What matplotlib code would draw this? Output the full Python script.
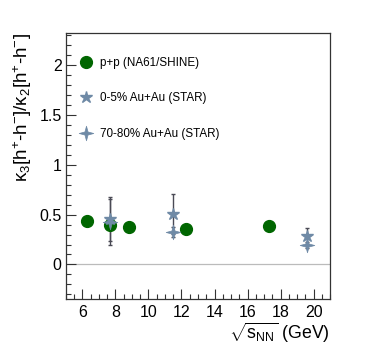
import matplotlib
matplotlib.use('Agg')
import numpy as np
import matplotlib.pyplot as plt
from matplotlib.path import Path
from matplotlib.ticker import MultipleLocator

plt.rcParams['font.family'] = ['Liberation Sans', 'DejaVu Sans']
plt.rcParams['mathtext.fontset'] = 'custom'
plt.rcParams['mathtext.rm'] = 'Liberation Sans'
plt.rcParams['mathtext.it'] = 'Liberation Sans'

# p+p (NA61/SHINE)
pp_energy = [6.3, 7.7, 8.8, 12.3, 17.3]
pp_ratio = [0.44, 0.40, 0.38, 0.36, 0.39]
pp_err = [0.05, 0.02, 0.02, 0.02, 0.02]

# 0-5% Au+Au (STAR)
c05_energy = [7.7, 11.5, 19.6]
c05_ratio = [0.46, 0.51, 0.29]
c05_err = [0.22, 0.20, 0.08]

# 70-80% Au+Au (STAR)
c7080_energy = [7.7, 11.5, 19.6]
c7080_ratio = [0.43, 0.33, 0.20]
c7080_err = [0.23, 0.05, 0.03]

green = '#006600'
slate = '#6f8aa6'
errc = '#4a4a55'

# four pointed star, like the ROOT one
ang = np.arange(8) * np.pi / 4 + np.pi / 2
rad = np.where(np.arange(8) % 2 == 0, 1.0, 0.3)
verts = np.column_stack([rad * np.cos(ang), rad * np.sin(ang)])
verts = np.vstack([verts, verts[:1]])
star4 = Path(verts, [Path.MOVETO] + [Path.LINETO] * 7 + [Path.CLOSEPOLY])

fig = plt.figure(figsize=(3.66, 3.53), dpi=100)
ax = fig.add_axes([0.180, 0.152, 0.722, 0.754])

ax.axhline(0, color='#bbbbbb', lw=0.9, zorder=1)

ax.errorbar(c05_energy, c05_ratio, yerr=c05_err, fmt='none', ecolor=errc,
            elinewidth=1.0, capsize=1.5, capthick=1.0, zorder=2)
ax.errorbar(c7080_energy, c7080_ratio, yerr=c7080_err, fmt='none', ecolor=errc,
            elinewidth=1.0, capsize=1.5, capthick=1.0, zorder=2)
ax.errorbar(pp_energy, pp_ratio, yerr=pp_err, fmt='none', ecolor=green,
            elinewidth=1.0, capsize=0, zorder=2)

ax.plot(pp_energy, pp_ratio, 'o', color=green, ms=8.5, mec=green, zorder=3,
        label='p+p (NA61/SHINE)')
ax.plot(c05_energy, c05_ratio, '*', color=slate, ms=9, mec=slate, zorder=4,
        label='0-5% Au+Au (STAR)')
ax.plot(c7080_energy, c7080_ratio, marker=star4, ls='none', color=slate,
        ms=10.5, mec=slate, mew=0.5, zorder=4, label='70-80% Au+Au (STAR)')

ax.set_xlim(5, 21)
ax.set_ylim(-0.35, 2.32)
ax.xaxis.set_minor_locator(MultipleLocator(0.5))
ax.yaxis.set_minor_locator(MultipleLocator(0.1))
ax.set_xticks(range(6, 21, 2))
ax.set_xticklabels([str(v) for v in range(6, 21, 2)])
ax.set_yticks([0, 0.5, 1, 1.5, 2])
ax.set_yticklabels(['0', '0.5', '1', '1.5', '2'])
ax.tick_params(which='both', direction='in', top=False, right=False,
               labelsize=11.5, color='#333333')
ax.tick_params(which='major', length=7, width=0.8)
ax.tick_params(which='minor', length=3.5, width=0.8)
ax.tick_params(axis='x', pad=4)
ax.tick_params(axis='y', pad=3)
for s in ax.spines.values():
    s.set_linewidth(0.9)
    s.set_color('#333333')

ax.set_ylabel(r'$\mathregular{\kappa_3[h^{+}\text{-}h^{-}]/\kappa_2[h^{+}\text{-}h^{-}]}$',
              fontsize=13.5, loc='top', labelpad=4)
ax.set_xlabel(r'$\sqrt{\mathregular{s_{NN}}}$ (GeV)', fontsize=12.8, loc='right',
              labelpad=1)

ax.legend(loc='upper left', bbox_to_anchor=(0.015, 0.95), frameon=False,
          fontsize=8.4, labelspacing=2.0, handletextpad=0.65, handlelength=1.0,
          markerscale=1.0, numpoints=1)

fig.savefig('out.png', dpi=100)
